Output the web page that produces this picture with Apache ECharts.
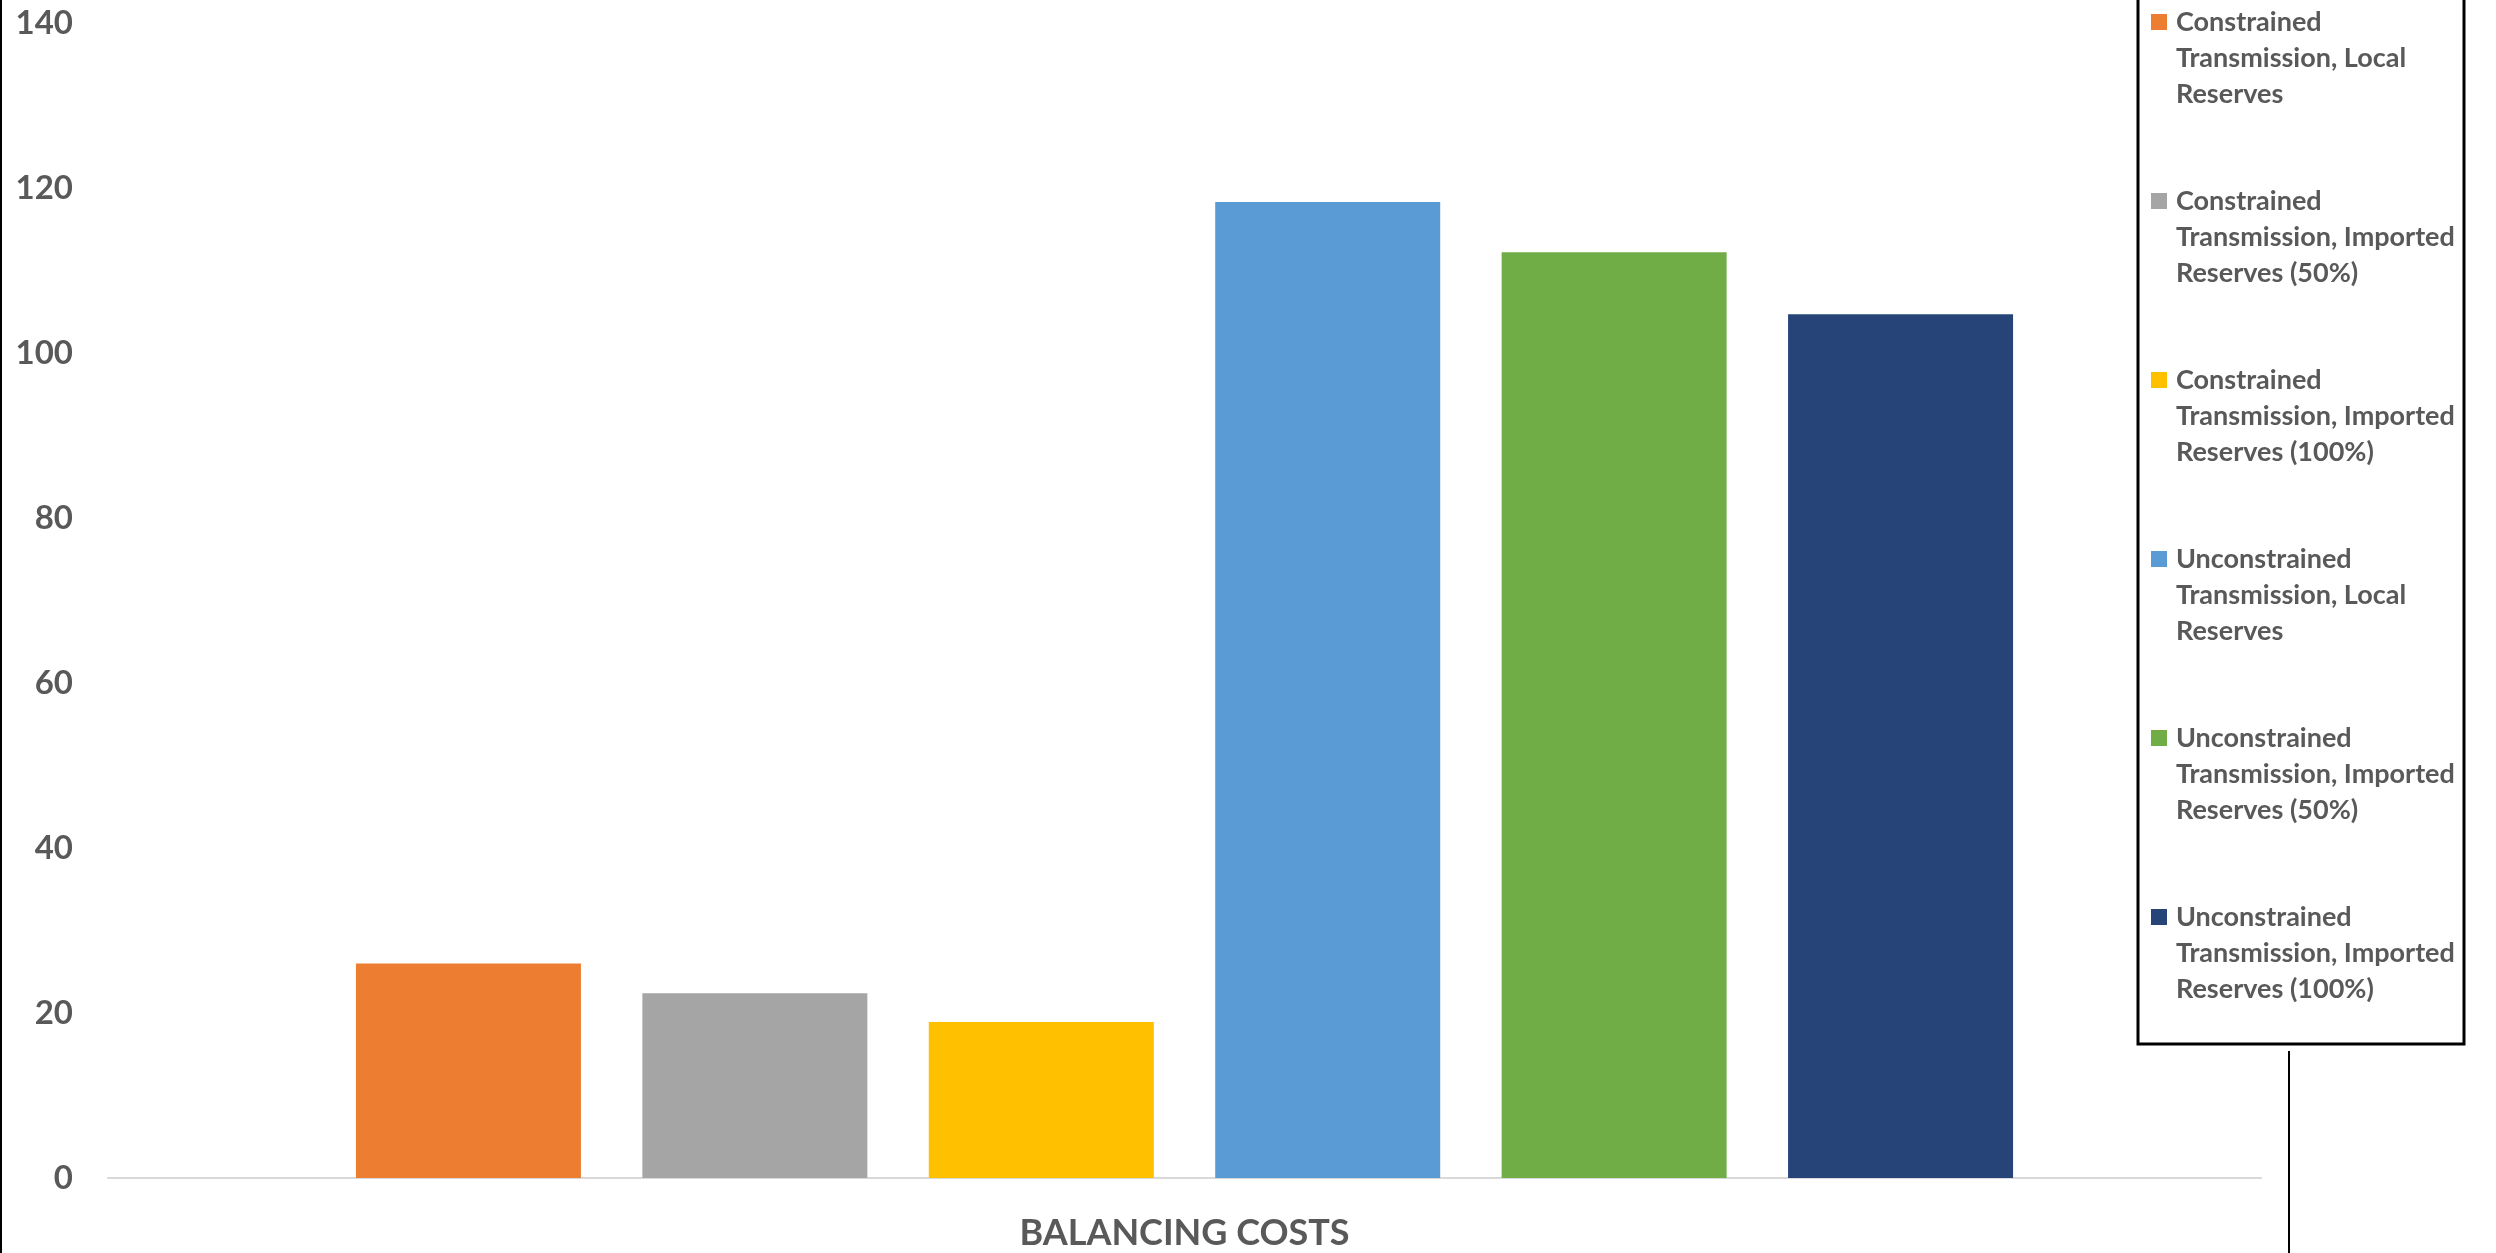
<!DOCTYPE html>
<html>
<head>
<meta charset="utf-8">
<style>
  html, body { margin: 0; padding: 0; background: #ffffff; }
  #chart { width: 2496px; height: 1253px; }
</style>
<script src="https://cdn.jsdelivr.net/npm/echarts@6/dist/echarts.min.js"></script>
</head>
<body>
<div id="chart"></div>
<script>
// Single category on the x axis
const categories = ['BALANCING COSTS'];

// Scenario names, wrapped the way the legend shows them
const seriesNames = [
  'Constrained\nTransmission, Local\nReserves',
  'Constrained\nTransmission, Imported\nReserves (50%)',
  'Constrained\nTransmission, Imported\nReserves (100%)',
  'Unconstrained\nTransmission, Local\nReserves',
  'Unconstrained\nTransmission, Imported\nReserves (50%)',
  'Unconstrained\nTransmission, Imported\nReserves (100%)'
];

// Balancing cost per scenario
const seriesValues = [26.0, 22.4, 18.9, 118.3, 112.2, 104.7];

const seriesColors = ['#ED7D31', '#A5A5A5', '#FFC000', '#5B9BD5', '#70AD47', '#264478'];

// Y axis range
const yMin = 0;
const yMax = 140;
const yStep = 20;

const textColor = '#595959';
const fontFamily = 'Lato, "Open Sans", sans-serif';

const chart = echarts.init(document.getElementById('chart'), null, { renderer: 'canvas' });

const series = seriesNames.map((name, i) => ({
  name: name,
  type: 'bar',
  data: [seriesValues[i]],
  barWidth: 225,
  barGap: '27.3%',
  itemStyle: { color: seriesColors[i] },
  emphasis: { disabled: true }
}));

chart.setOption({
  animation: false,
  backgroundColor: '#ffffff',
  grid: { left: 108, right: 235, top: 23, bottom: 75, containLabel: false },
  xAxis: {
    type: 'category',
    data: categories,
    axisLine: { show: true, lineStyle: { color: '#D9D9D9', width: 2 } },
    axisTick: { show: false },
    axisLabel: {
      margin: 37,
      color: textColor,
      fontFamily: fontFamily,
      fontWeight: 'bold',
      fontSize: 36
    }
  },
  yAxis: {
    type: 'value',
    min: yMin,
    max: yMax,
    interval: yStep,
    axisLine: { show: false },
    axisTick: { show: false },
    splitLine: { show: false },
    axisLabel: {
      margin: 35,
      color: textColor,
      fontFamily: fontFamily,
      fontWeight: 'bold',
      fontSize: 33
    }
  },
  legend: {
    orient: 'vertical',
    left: 2138,
    top: -78,
    padding: [10, 0, 37, 13],
    itemGap: -1,
    itemWidth: 16,
    itemHeight: 16,
    icon: 'rect',
    borderColor: '#000000',
    borderWidth: 3,
    selectedMode: false,
    // two leading blank lines put the marker beside the first text line
    formatter: name => '\n\n' + name,
    textStyle: {
      color: textColor,
      fontFamily: fontFamily,
      fontWeight: 'bold',
      fontSize: 27,
      lineHeight: 36,
      width: 288,
      overflow: 'none',
      padding: [0, 0, 0, 4]
    },
    data: seriesNames
  },
  graphic: [
    {
      type: 'line',
      shape: { x1: 1, y1: 0, x2: 1, y2: 1253 },
      style: { stroke: '#000000', lineWidth: 2 }
    },
    {
      type: 'line',
      shape: { x1: 2289, y1: 1051, x2: 2289, y2: 1253 },
      style: { stroke: '#000000', lineWidth: 2 }
    }
  ],
  series: series
});
</script>
</body>
</html>
